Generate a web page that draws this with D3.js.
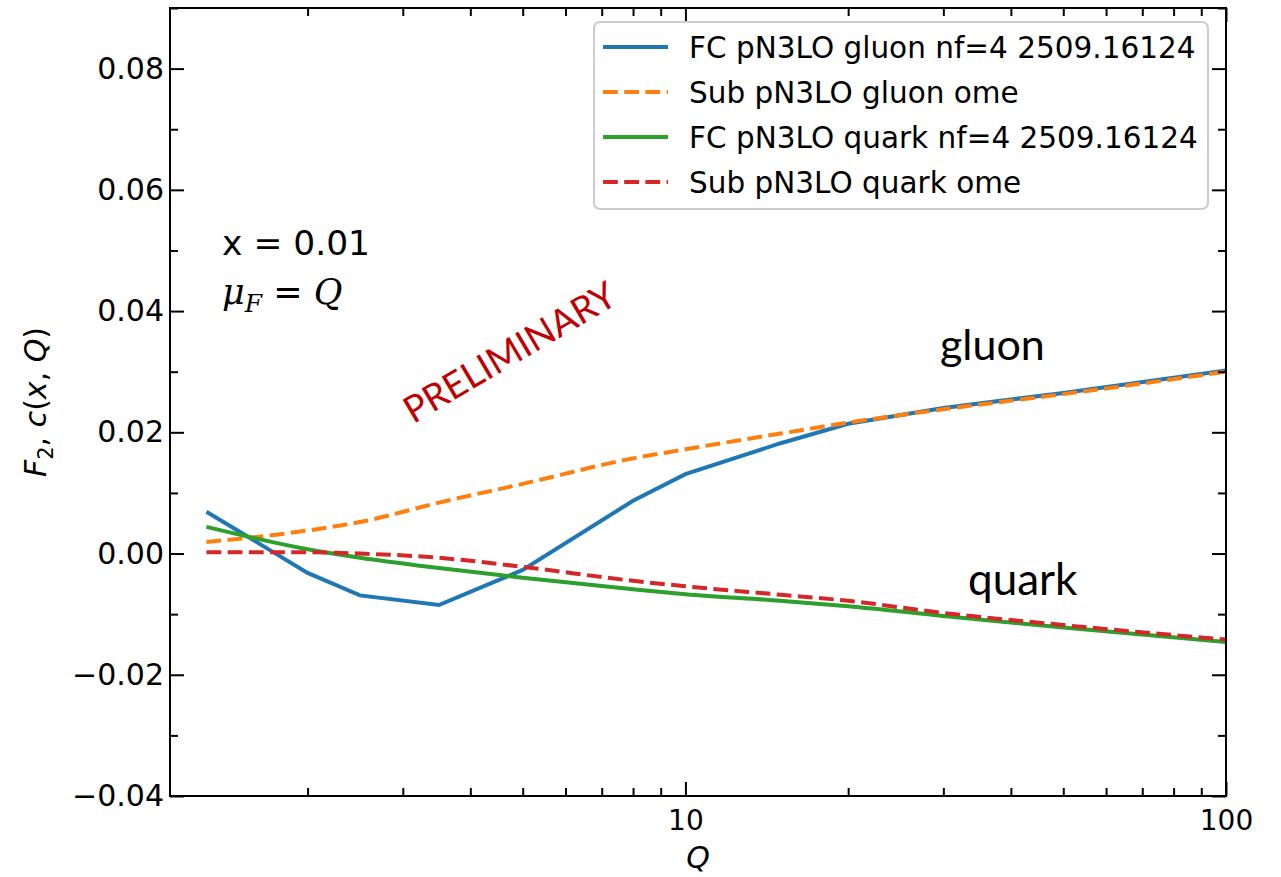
<!DOCTYPE html>
<html><head><meta charset="utf-8">
<script src="https://cdn.jsdelivr.net/npm/d3@7"></script>
<style>body{margin:0;background:#fff}svg{display:block}</style>
</head><body>
<svg id="c" width="1281" height="877"></svg>
<script>
const Q = [1.3, 2, 2.5, 3.5, 5, 8, 10, 15, 20, 30, 50, 100];
const fcGluon  = [0.0069, -0.0032, -0.0069, -0.0085, -0.0027, 0.0087, 0.0131, 0.0182, 0.0214, 0.0240, 0.0265, 0.0302];
const subGluon = [0.0019, 0.0038, 0.0052, 0.0084, 0.0115, 0.0157, 0.0172, 0.0198, 0.0216, 0.0238, 0.0263, 0.0300];
const fcQuark  = [0.0044, 0.0007, -0.0007, -0.0024, -0.0040, -0.0059, -0.0067, -0.0078, -0.0087, -0.0103, -0.0122, -0.0146];
const subQuark = [0.0002, 0.0002, 0.0000, -0.0007, -0.0022, -0.0045, -0.0054, -0.0068, -0.0078, -0.0098, -0.0118, -0.0142];
const legendLabels = ["FC pN3LO gluon nf=4 2509.16124", "Sub pN3LO gluon ome", "FC pN3LO quark nf=4 2509.16124", "Sub pN3LO quark ome"];
const yTicks = [-0.04, -0.02, 0.00, 0.02, 0.04, 0.06, 0.08];
const xTicks = [10, 100];

const svg = d3.select("#c");
const L = 170, R = 1226, T = 8, B = 796;
const x = d3.scaleLog().domain([1.113, 100]).range([L, R]);
const y = d3.scaleLinear().domain([-0.04, 0.09]).range([B, T]);

const series = [
  {vals: fcGluon,  color: "#1f77b4", dash: null, curve: d3.curveLinear},
  {vals: subGluon, color: "#ff7f0e", dash: "14.8,6.4", curve: d3.curveMonotoneX},
  {vals: fcQuark,  color: "#2ca02c", dash: null, curve: d3.curveMonotoneX},
  {vals: subQuark, color: "#d62728", dash: "14.8,6.4", curve: d3.curveMonotoneX}
];

const gPlot = svg.append("g");
gPlot.append("clipPath").attr("id","clip").append("rect").attr("x",L).attr("y",T).attr("width",R-L).attr("height",B-T);
series.forEach(s => {
  const line = d3.line().x((d,i)=>x(Q[i])).y(d=>y(d)).curve(s.curve);
  gPlot.append("path").datum(s.vals).attr("d", line)
    .attr("clip-path","url(#clip)")
    .attr("fill","none").attr("stroke", s.color).attr("stroke-width",4)
    .attr("stroke-dasharray", s.dash);
});

const font = "DejaVu Sans, sans-serif";
const minorX = [];
for (let dec of [1,10]) for (let k=2;k<=9;k++){ const v=dec*k; if (v>=1.113 && v<100) minorX.push(v); }
const minorY = d3.range(-0.04, 0.0901, 0.01).filter(v => Math.abs(Math.round(v*100)) % 2 === 1);

function styleAxis(g){ g.select(".domain").remove(); g.selectAll(".tick line").attr("stroke","#000").attr("stroke-width",2); }

svg.append("g").attr("transform",`translate(0,${B})`)
  .call(d3.axisBottom(x).tickValues(xTicks).tickSize(-14).tickPadding(14).tickFormat(d3.format("d")))
  .call(styleAxis).call(g=>g.selectAll("text").attr("font-family",font).attr("font-size",28).attr("fill","#000").attr("dy","0.71em"));
svg.append("g").attr("transform",`translate(0,${B})`)
  .call(d3.axisBottom(x).tickValues(minorX).tickSize(-8).tickFormat(""))
  .call(styleAxis);
svg.append("g").attr("transform",`translate(0,${T})`)
  .call(d3.axisTop(x).tickValues(xTicks).tickSize(-14).tickFormat("")).call(styleAxis);
svg.append("g").attr("transform",`translate(0,${T})`)
  .call(d3.axisTop(x).tickValues(minorX).tickSize(-8).tickFormat("")).call(styleAxis);
svg.append("g").attr("transform",`translate(${L},0)`)
  .call(d3.axisLeft(y).tickValues(yTicks).tickSize(-14).tickPadding(6).tickFormat(d => d3.format(".2f")(d).replace("-","\u2212")))
  .call(styleAxis).call(g=>g.selectAll("text").attr("font-family",font).attr("font-size",30).attr("fill","#000"));
svg.append("g").attr("transform",`translate(${L},0)`)
  .call(d3.axisLeft(y).tickValues(minorY).tickSize(-8).tickFormat("")).call(styleAxis);
svg.append("g").attr("transform",`translate(${R},0)`)
  .call(d3.axisRight(y).tickValues(yTicks).tickSize(-14).tickFormat("")).call(styleAxis);
svg.append("g").attr("transform",`translate(${R},0)`)
  .call(d3.axisRight(y).tickValues(minorY).tickSize(-8).tickFormat("")).call(styleAxis);

svg.append("rect").attr("x",L).attr("y",T).attr("width",R-L).attr("height",B-T)
  .attr("fill","none").attr("stroke","#000").attr("stroke-width",2);

svg.append("text").attr("x",(L+R)/2).attr("y",868).attr("text-anchor","middle")
  .attr("font-family",font).attr("font-size",30).attr("font-style","italic").text("Q");
const yl = svg.append("text").attr("transform",`translate(46,${(T+B)/2}) rotate(-90)`).attr("text-anchor","middle")
  .attr("font-family",font).attr("font-size",30);
yl.append("tspan").attr("font-style","italic").text("F");
yl.append("tspan").attr("font-size",21).attr("dy",7).text("2");
yl.append("tspan").attr("dy",-7).text(", ");
yl.append("tspan").attr("font-style","italic").text("c");
yl.append("tspan").text("(");
yl.append("tspan").attr("font-style","italic").text("x");
yl.append("tspan").text(", ");
yl.append("tspan").attr("font-style","italic").text("Q");
yl.append("tspan").text(")");

svg.append("text").attr("x",222).attr("y",255).attr("font-family",font).attr("font-size",34.5).text("x = 0.01");
const mu = svg.append("text").attr("x",222).attr("y",304).attr("font-family","DejaVu Serif, serif").attr("font-size",35);
mu.append("tspan").attr("font-style","italic").text("\u03bc");
mu.append("tspan").attr("font-style","italic").attr("font-size",25).attr("dy",8).text("F");
mu.append("tspan").attr("dy",-8).attr("font-family",font).text(" = ");
mu.append("tspan").attr("font-style","italic").text("Q");

svg.append("text").attr("x",940).attr("y",360).attr("font-family","Lato, sans-serif").attr("font-size",43).text("gluon");
svg.append("text").attr("x",968).attr("y",595).attr("font-family","Lato, sans-serif").attr("font-size",44).text("quark");
svg.append("text").attr("transform","translate(509,351) rotate(-30.5)").attr("text-anchor","middle")
  .attr("dominant-baseline","central").attr("font-family","Lato, sans-serif").attr("font-size",37)
  .attr("fill","#c00000").text("PRELIMINARY");

const lg = svg.append("g");
lg.append("rect").attr("x",594).attr("y",22).attr("width",614).attr("height",187).attr("rx",6)
  .attr("fill","#fff").attr("fill-opacity",0.8).attr("stroke","#cccccc").attr("stroke-width",2);
legendLabels.forEach((lab,i) => {
  const yy = 47 + i*45;
  lg.append("line").attr("x1",603).attr("x2",668).attr("y1",yy).attr("y2",yy)
    .attr("stroke",series[i].color).attr("stroke-width",4).attr("stroke-dasharray",series[i].dash);
  lg.append("text").attr("x",689).attr("y",yy).attr("dy","0.36em").attr("font-family",font)
    .attr("font-size",29.5).attr("fill","#000").text(lab);
});
</script>
</body></html>
